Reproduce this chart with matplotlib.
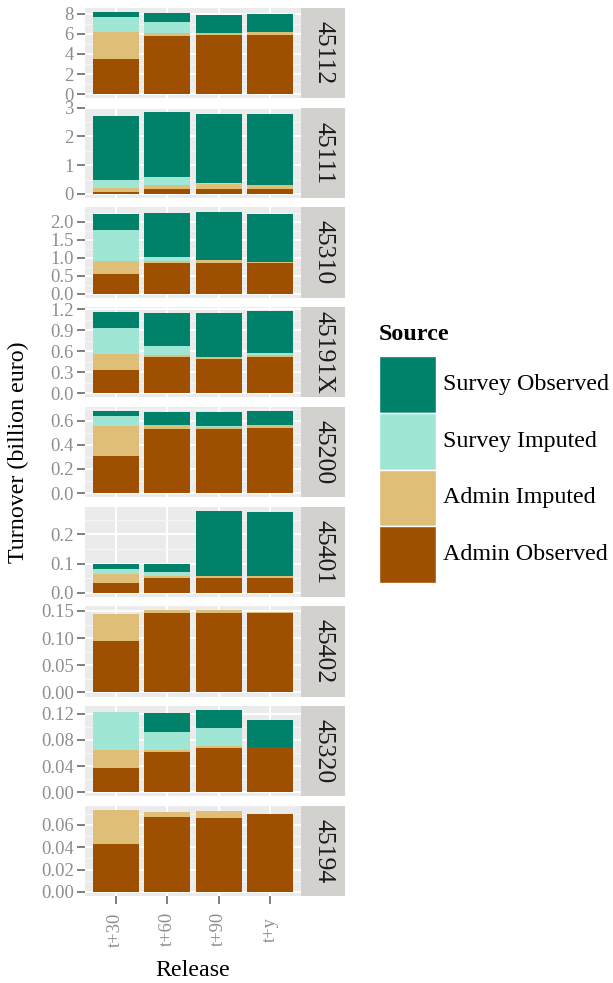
import matplotlib
matplotlib.use("Agg")
import matplotlib.pyplot as plt
import numpy as np
from matplotlib.patches import Rectangle
from matplotlib.ticker import FixedLocator, FormatStrFormatter

plt.rcParams['font.family'] = ['Liberation Serif', 'DejaVu Serif']

releases = ["t+30", "t+60", "t+90", "t+y"]
groups = ["45112", "45111", "45310", "45191X", "45200",
          "45401", "45402", "45320", "45194"]
sources = ["Admin Observed", "Admin Imputed", "Survey Imputed", "Survey Observed"]
source_colors = ["#9E4F00", "#DFBF77", "#A0E6D5", "#00816A"]

# turnover (billion euro) per group and release, one list per source
admin_observed = [
    [3.52, 5.82, 5.92, 5.92],
    [0.07, 0.17, 0.17, 0.17],
    [0.54, 0.85, 0.85, 0.85],
    [0.335, 0.524, 0.496, 0.524],
    [0.31, 0.532, 0.532, 0.54],
    [0.035, 0.052, 0.052, 0.052],
    [0.0943, 0.1457, 0.1457, 0.1457],
    [0.0375, 0.0618, 0.0684, 0.0699],
    [0.0429, 0.0672, 0.0663, 0.0702],
]
admin_imputed = [
    [2.66, 0.30, 0.17, 0.23],
    [0.13, 0.13, 0.17, 0.14],
    [0.36, 0.06, 0.08, 0.03],
    [0.225, 0.016, 0.024, 0.024],
    [0.246, 0.028, 0.016, 0.025],
    [0.0275, 0.006, 0.007, 0.0037],
    [0.0497, 0.0053, 0.0053, 0.0033],
    [0.0273, 0.0025, 0.0025, 0.0],
    [0.0306, 0.0045, 0.0063, 0.0],
]
survey_imputed = [
    [1.48, 1.05, 0.0, 0.02],
    [0.275, 0.28, 0.04, 0.0],
    [0.88, 0.10, 0.0, 0.0],
    [0.37, 0.135, 0.0, 0.028],
    [0.084, 0.0, 0.008, 0.0],
    [0.0205, 0.0136, 0.0, 0.0],
    [0.0, 0.0, 0.0, 0.0],
    [0.0587, 0.0277, 0.0271, 0.0],
    [0.0, 0.0, 0.0, 0.0],
]
survey_observed = [
    [0.50, 0.89, 1.77, 1.79],
    [2.255, 2.28, 2.39, 2.46],
    [0.44, 1.24, 1.35, 1.34],
    [0.227, 0.468, 0.623, 0.594],
    [0.04, 0.112, 0.116, 0.115],
    [0.014, 0.0254, 0.222, 0.2213],
    [0.0, 0.0, 0.0, 0.0],
    [0.0, 0.029, 0.0276, 0.0401],
    [0.0, 0.0, 0.0, 0.0],
]

y_breaks = [
    [0, 2, 4, 6, 8],
    [0, 1, 2, 3],
    [0.0, 0.5, 1.0, 1.5, 2.0],
    [0.0, 0.3, 0.6, 0.9, 1.2],
    [0.0, 0.2, 0.4, 0.6],
    [0.0, 0.1, 0.2],
    [0.00, 0.05, 0.10, 0.15],
    [0.00, 0.04, 0.08, 0.12],
    [0.00, 0.02, 0.04, 0.06],
]
y_decimals = [0, 0, 1, 1, 1, 1, 2, 2, 2]

W, H = 613, 983
fig = plt.figure(figsize=(W / 100, H / 100), dpi=100)


def px_box(x0, y0, x1, y1):
    return [x0 / W, 1 - y1 / H, (x1 - x0) / W, (y1 - y0) / H]


panel_left, panel_right, strip_w = 85, 301, 44
panel_top, panel_bottom, gap = 8, 896, 9.5
n = len(groups)
ph = (panel_bottom - panel_top - gap * (n - 1)) / n

panel_bg = "#EBEBEB"
strip_bg = "#D3D1CD"
tick_col = "#7F7F7F"
label_col = "#8E8E8E"
small = 13.4
big = 17.3
strip_size = 18.5

stacks = [admin_observed, admin_imputed, survey_imputed, survey_observed]
x = np.arange(len(releases))

for i, g in enumerate(groups):
    y0 = panel_top + i * (ph + gap)
    ax = fig.add_axes(px_box(panel_left, y0, panel_right, y0 + ph))
    ax.set_facecolor(panel_bg)
    base = np.zeros(len(releases))
    for vals, col in zip(stacks, source_colors):
        v = np.array(vals[i], dtype=float)
        ax.bar(x, v, bottom=base, width=0.9, color=col, linewidth=0, zorder=3)
        base += v
    lo, hi = 0.0, base.max()
    r = hi - lo
    ylo, yhi = lo - 0.05 * r, hi + 0.05 * r
    ax.set_ylim(ylo, yhi)
    ax.set_xlim(-0.6, len(releases) - 1 + 0.6)

    br = y_breaks[i]
    step = br[1] - br[0]
    minors = [b + step / 2 for b in [br[0] - step] + br]
    minors = [m for m in minors if ylo <= m <= yhi]
    ax.yaxis.set_major_locator(FixedLocator(br))
    ax.yaxis.set_minor_locator(FixedLocator(minors))
    ax.yaxis.set_major_formatter(FormatStrFormatter(f"%.{y_decimals[i]}f"))
    ax.set_xticks(x)
    ax.set_axisbelow(True)
    ax.grid(which="major", color="white", linewidth=1.4)
    ax.grid(which="minor", axis="y", color="#F6F6F6", linewidth=0.7)
    for s in ax.spines.values():
        s.set_visible(False)
    ax.tick_params(axis="y", which="major", length=6, width=1.4, color=tick_col,
                   labelcolor=label_col, labelsize=small, pad=2)
    ax.tick_params(axis="y", which="minor", length=0)
    if i == n - 1:
        ax.set_xticklabels(releases, rotation=90, ha="center", va="center")
        ax.tick_params(axis="x", length=6, width=1.4, color=tick_col,
                       labelcolor=label_col, labelsize=small, pad=18)
    else:
        ax.tick_params(axis="x", length=0, labelbottom=False)

    sx = fig.add_axes(px_box(panel_right, y0, panel_right + strip_w, y0 + ph))
    sx.set_facecolor(strip_bg)
    sx.set_xticks([])
    sx.set_yticks([])
    for s in sx.spines.values():
        s.set_visible(False)
    sx.text(0.5, 0.5, g, rotation=-90, ha="center", va="center",
            fontsize=strip_size, color="#1A1A1A", transform=sx.transAxes)

fig.text(18 / W, 1 - 452 / H, "Turnover (billion euro)", rotation=90,
         ha="center", va="center", fontsize=big, color="black")
fig.text((panel_left + panel_right) / 2 / W, 1 - 970 / H, "Release",
         ha="center", va="center", fontsize=big, color="black")

# legend
lx, ltop, kw, kh = 379, 356, 57, 56.75
fig.text(lx / W, 1 - 334 / H, "Source", ha="left", va="center",
         fontsize=big, fontweight="bold", color="black")
for k, (name, col) in enumerate(zip(sources[::-1], source_colors[::-1])):
    ky = ltop + k * kh
    fig.patches.append(Rectangle((lx / W, 1 - (ky + kh) / H), kw / W, kh / H,
                                 transform=fig.transFigure, facecolor=col,
                                 edgecolor="white", linewidth=1.0))
    fig.text((lx + kw + 7) / W, 1 - (ky + kh / 2) / H, name, ha="left",
             va="center", fontsize=big, color="black")

fig.savefig("out.png", dpi=100)
